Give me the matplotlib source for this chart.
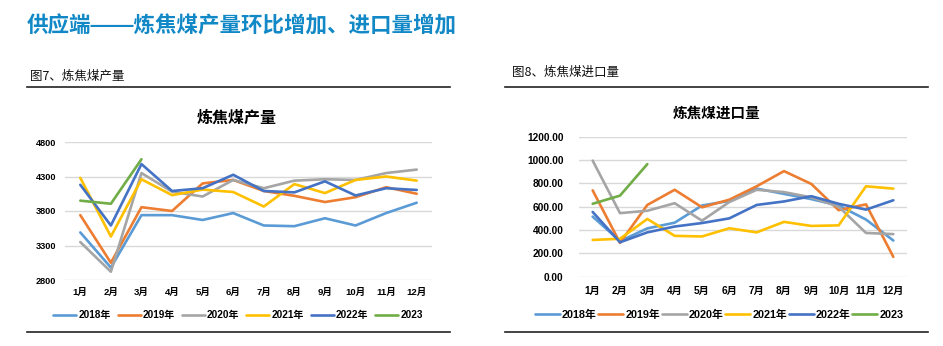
import matplotlib
matplotlib.use("Agg")
import matplotlib.pyplot as plt
from matplotlib.lines import Line2D

plt.rcParams['font.family'] = ['Liberation Sans', 'Noto Sans CJK SC', 'DejaVu Sans']

months = ['1月', '2月', '3月', '4月', '5月', '6月', '7月', '8月', '9月', '10月', '11月', '12月']
series_names = ['2018年', '2019年', '2020年', '2021年', '2022年', '2023']
colors = ['#5B9BD5', '#ED7D31', '#A5A5A5', '#FFC000', '#4472C4', '#70AD47']

# 炼焦煤产量
prod_2018 = [3490, 2980, 3740, 3740, 3670, 3770, 3590, 3580, 3695, 3590, 3770, 3920]
prod_2019 = [3740, 3050, 3855, 3800, 4200, 4250, 4090, 4020, 3930, 4000, 4145, 4050]
prod_2020 = [3350, 2920, 4350, 4080, 4010, 4250, 4130, 4240, 4260, 4250, 4350, 4400]
prod_2021 = [4280, 3430, 4260, 4030, 4110, 4075, 3865, 4190, 4060, 4250, 4300, 4240]
prod_2022 = [4180, 3590, 4480, 4090, 4130, 4325, 4090, 4070, 4230, 4025, 4130, 4105]
prod_2023 = [3950, 3905, 4550]
prod_ticks = [2800, 3300, 3800, 4300, 4800]

# 炼焦煤进口量
imp_2018 = [515, 305, 414, 463, 610, 650, 755, 710, 665, 610, 490, 310]
imp_2019 = [740, 290, 615, 745, 595, 660, 775, 905, 795, 570, 620, 170]
imp_2020 = [995, 545, 565, 630, 480, 640, 745, 725, 680, 600, 375, 365]
imp_2021 = [315, 325, 495, 350, 345, 415, 380, 470, 435, 440, 775, 755]
imp_2022 = [555, 295, 380, 430, 460, 500, 615, 645, 690, 625, 575, 655]
imp_2023 = [625, 695, 965]
imp_ticks = [0, 200, 400, 600, 800, 1000, 1200]

W, H = 943, 346
fig = plt.figure(figsize=(W / 100, H / 100), dpi=100)


def fx(px):
    return px / W


def fy(py):
    return 1 - py / H


# Page title
fig.text(fx(27), fy(27), '供应端——炼焦煤产量环比增加、进口量增加', color='#1289C6',
         fontsize=15.5, fontweight='bold', family=['Liberation Sans', 'Noto Sans CJK SC'],
         va='center', ha='left')

# Sub-headers
fig.text(fx(30), fy(76), '图7、炼焦煤产量', fontsize=9, family=['Noto Sans CJK SC'],
         va='center', ha='left', color='#111111')
fig.text(fx(512), fy(72), '图8、炼焦煤进口量', fontsize=9, family=['Noto Sans CJK SC'],
         va='center', ha='left', color='#111111')

for x0, x1, y in [(27, 450, 87), (505, 928, 87), (27, 450, 332), (505, 928, 332)]:
    fig.add_artist(Line2D([fx(x0), fx(x1)], [fy(y), fy(y)], color='#222222', lw=1.2,
                          transform=fig.transFigure))


def draw(rect, data, ticks, fmt, title, title_xy, tfs, lfs, legfs, legend_xy, ypad, xpad, colsp):
    ax = fig.add_axes(rect)
    x = list(range(len(months)))
    for vals, c, name in zip(data, colors, series_names):
        ax.plot(x[:len(vals)], vals, color=c, lw=1.9, label=name, solid_capstyle='round')
    ax.set_xlim(-0.5, 11.5)
    ax.set_ylim(ticks[0], ticks[-1])
    ax.set_yticks(ticks)
    ax.set_yticklabels([fmt(t) for t in ticks], fontsize=tfs, fontweight='bold')
    ax.set_xticks(x)
    ax.set_xticklabels(months, fontsize=lfs, fontweight='bold')
    ax.tick_params(axis='both', length=0)
    ax.tick_params(axis='y', pad=ypad)
    ax.tick_params(axis='x', pad=xpad)
    ax.grid(axis='y', color='#D9D9D9', lw=1)
    ax.set_axisbelow(True)
    for s in ax.spines.values():
        s.set_visible(False)
    fig.text(fx(title_xy[0]), fy(title_xy[1]), title, fontsize=title_xy[2],
             fontweight='bold', family=['Noto Sans CJK SC'], ha='center', va='center')
    handles, labels = ax.get_legend_handles_labels()
    fig.legend(handles, labels, loc='center', bbox_to_anchor=(fx(legend_xy[0]), fy(legend_xy[1])),
               ncol=6, frameon=False, prop={'size': legfs, 'weight': 'bold'},
               handlelength=2.3, handletextpad=0.2, columnspacing=colsp, borderaxespad=0)
    return ax


draw([fx(65), fy(280), fx(432) - fx(65), fy(142) - fy(280)],
     [prod_2018, prod_2019, prod_2020, prod_2021, prod_2022, prod_2023],
     prod_ticks, lambda t: f'{t}', '炼焦煤产量', (237, 118, 11.5),
     6.6, 6.8, 7.2, (238, 315), 6.5, 6, 0.7)

draw([fx(579), fy(276.7), fx(907) - fx(579), fy(136.7) - fy(276.7)],
     [imp_2018, imp_2019, imp_2020, imp_2021, imp_2022, imp_2023],
     imp_ticks, lambda t: f'{t:.2f}', '炼焦煤进口量', (717, 113, 10.5),
     7.3, 7.3, 7.8, (719, 315), 11, 7, 0.15)

fig.savefig('out.png', dpi=100)
